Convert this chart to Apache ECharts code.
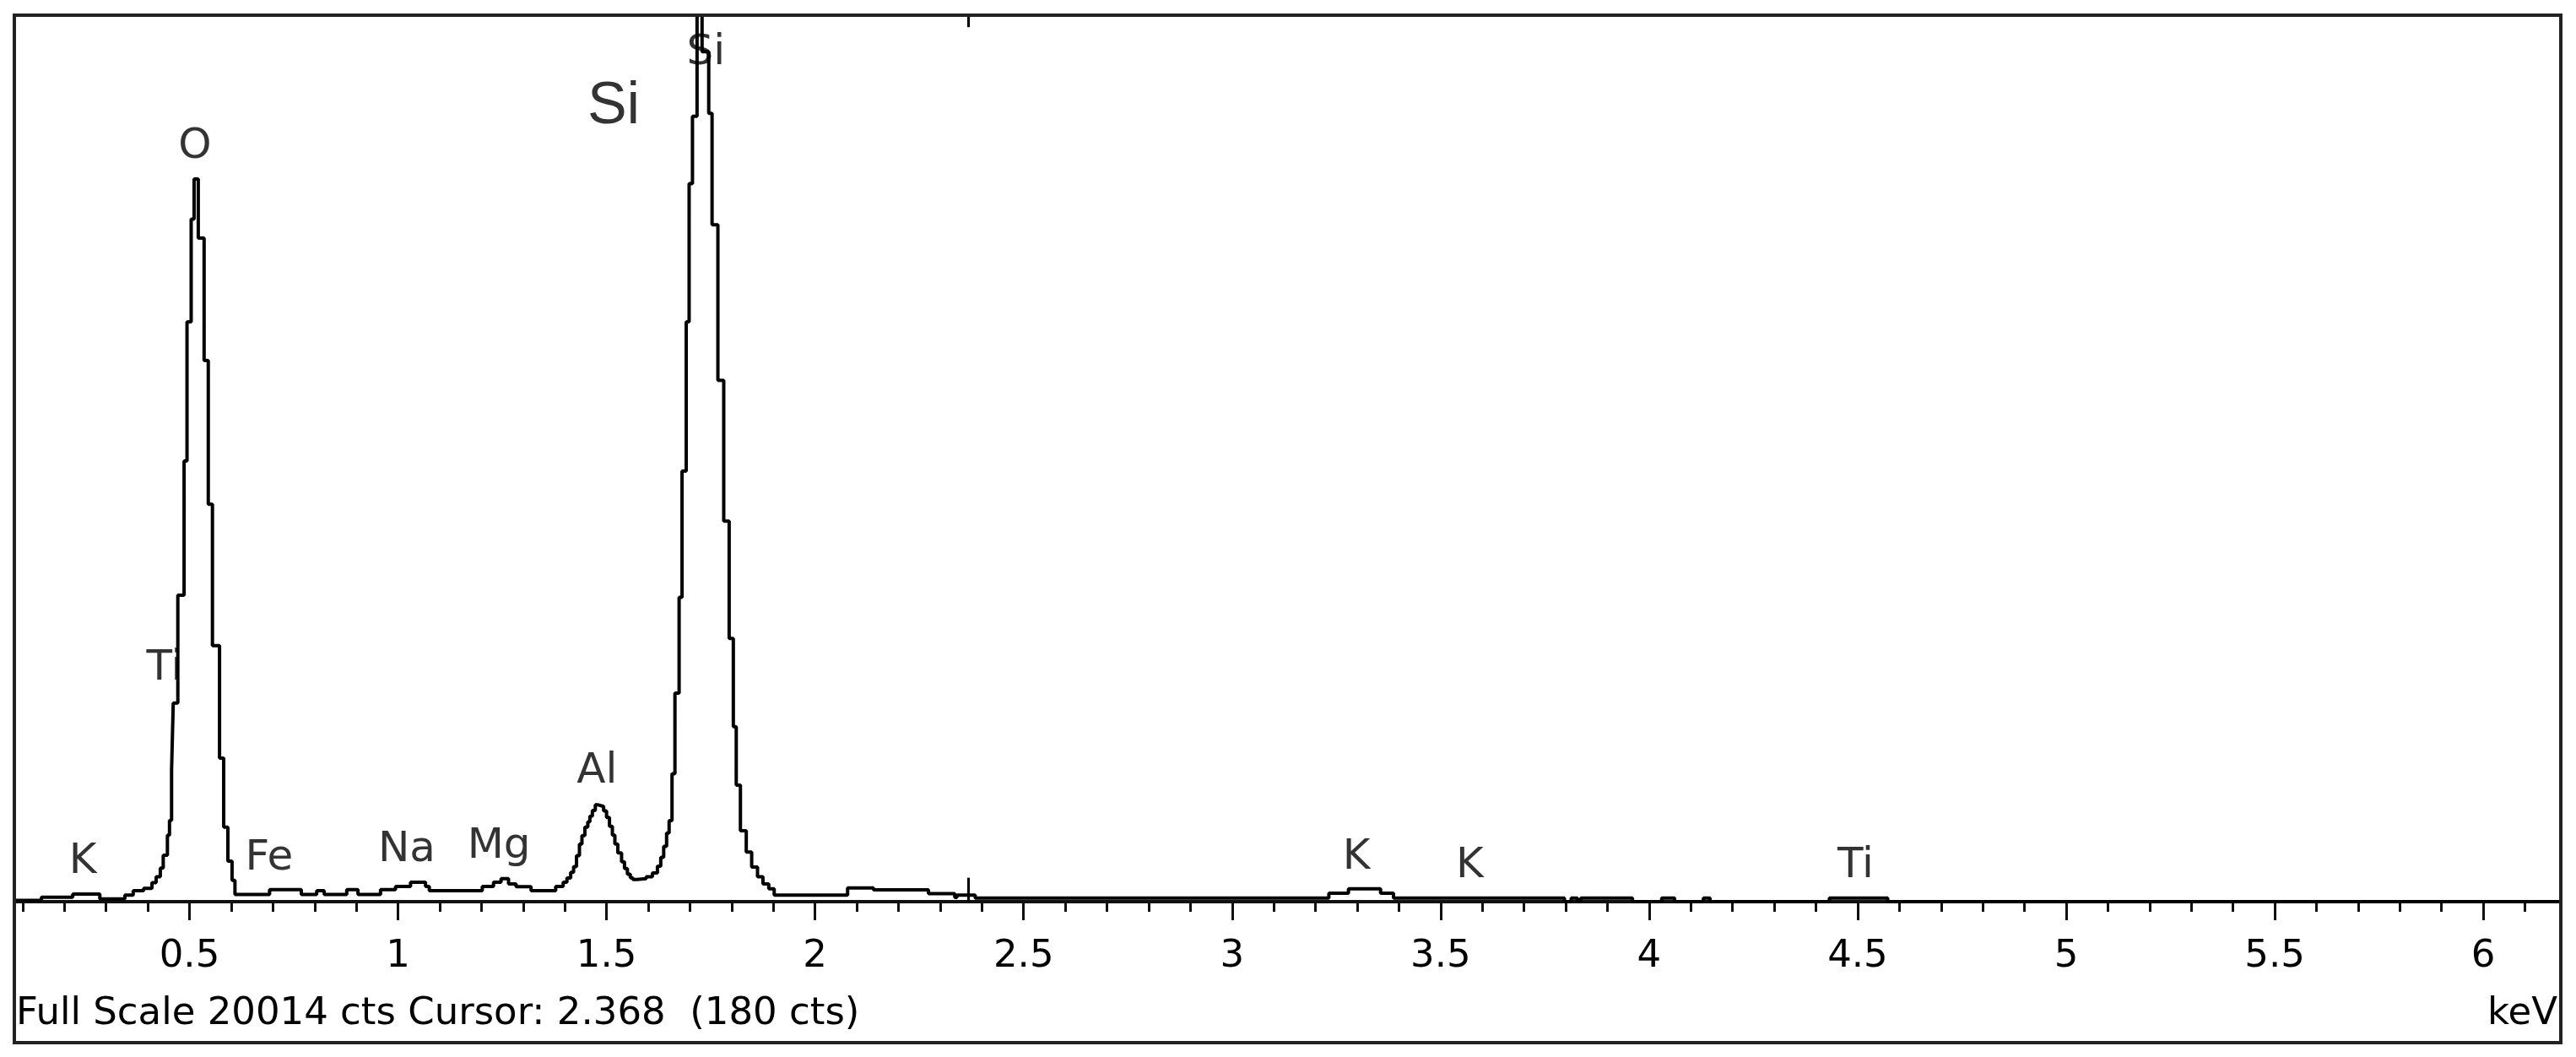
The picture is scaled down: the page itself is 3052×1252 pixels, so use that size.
<!DOCTYPE html>
<html>
<head>
<meta charset="utf-8">
<script src="https://cdn.jsdelivr.net/npm/echarts@6/dist/echarts.min.js"></script>
<style>
html,body{margin:0;padding:0;background:#fff;}
#chart{width:3052px;height:1252px;}
</style>
</head>
<body>
<div id="chart"></div>
<script>
// ---- spectrum data (step start energy in keV, counts level) ----
const energyKeV = [
  0.080, 0.145, 0.220, 0.285, 0.345, 0.365, 0.390, 0.410, 0.420, 0.430,
  0.437, 0.447, 0.452, 0.457, 0.461, 0.472, 0.487, 0.494, 0.504, 0.511,
  0.521, 0.535, 0.545, 0.555, 0.572, 0.582, 0.592, 0.602, 0.609, 0.692,
  0.768, 0.805, 0.823, 0.877, 0.904, 0.958, 0.994, 1.030, 1.066, 1.075,
  1.202, 1.229, 1.247, 1.265, 1.283, 1.319, 1.378, 1.396, 1.405, 1.414,
  1.421, 1.428, 1.435, 1.441, 1.448, 1.455, 1.460, 1.466, 1.473, 1.480,
  1.493, 1.500, 1.507, 1.514, 1.520, 1.527, 1.536, 1.543, 1.550, 1.557,
  1.563, 1.572, 1.595, 1.610, 1.622, 1.630, 1.637, 1.644, 1.650, 1.657,
  1.664, 1.674, 1.681, 1.691, 1.698, 1.706, 1.717, 1.729, 1.745, 1.753,
  1.767, 1.781, 1.794, 1.804, 1.811, 1.821, 1.835, 1.848, 1.862, 1.875,
  1.889, 1.902, 1.913, 2.078, 2.140, 2.272, 2.335, 2.340, 2.384, 3.232,
  3.279, 3.356, 3.387, 3.797, 3.813, 3.828, 3.836, 3.960, 4.030, 4.061,
  4.130, 4.146, 4.432, 4.572, 6.186
];
const counts = [
  30, 100, 170, 60, 150, 250, 300, 430, 560, 760,
  1050, 1500, 1835, 2970, 4485, 6920, 9950, 13090, 15410, 16315,
  14980, 12220, 8975, 5780, 3240, 1680, 915, 480, 160, 270,
  160, 250, 160, 270, 160, 270, 343, 440, 343, 250,
  343, 440, 520, 400, 340, 250, 343, 440, 534, 660,
  790, 1040, 1300, 1490, 1680, 1800, 1930, 2060, 2185, 2150,
  2050, 1900, 1700, 1500, 1300, 1100, 900, 750, 620, 540,
  500, 520, 560, 650, 800, 1000, 1250, 1550, 1830, 2890,
  4710, 6870, 9720, 13090, 16210, 17730, 20014, 19190, 17800, 15280,
  11770, 8590, 5940, 3950, 2630, 1600, 1120, 780, 560, 400,
  290, 150, 150, 310, 267, 180, 95, 150, 80, 190,
  290, 190, 80, 0, 80, 0, 80, 0, 80, 0,
  80, 0, 80, 0, 0
];

// ---- annotation values ----
const fullScale = 20014;
const cursorKeV = 2.368;
const cursorCts = 180;
const xMin = 0.08;
const xMax = 6.186;
const majorTicks = [0.5, 1, 1.5, 2, 2.5, 3, 3.5, 4, 4.5, 5, 5.5, 6];
const minorTicks = [];
for (let k = 1; k <= 61; k++) minorTicks.push(k / 10);

const elementNames    = ['K', 'O', 'Ti', 'Fe', 'Na', 'Mg', 'Al', 'Si', 'K', 'K', 'Ti'];
const elementKeV      = [0.244, 0.513, 0.440, 0.691, 1.021, 1.242, 1.477, 1.738, 3.298, 3.570, 4.495];
const elementLabelCts = [896, 17040, 5260, 981, 1153, 1248, 2935, 19155, 991, 800, 800];
const titleName = 'Si';
const titleKeV = 1.517;
const titleCts = 17935;
const unitName = 'keV';

// ---- build ----
const spectrum = energyKeV.map((e, i) => [e, counts[i]]);
const cursorLowLen = 540;
const cursorTopLen = 270;
const ink = '#111';

const chart = echarts.init(document.getElementById('chart'), null, {renderer: 'canvas'});
chart.setOption({
  animation: false,
  backgroundColor: '#fff',
  grid: {left: 17, right: 18, top: 18, bottom: 184, containLabel: false, outerBoundsMode: 'none'},
  xAxis: [
    {
      type: 'value', min: xMin, max: xMax, position: 'bottom',
      axisLine: {show: true, onZero: false, lineStyle: {color: ink, width: 4}},
      axisTick: {show: true, customValues: minorTicks, length: 12, lineStyle: {color: ink, width: 3}},
      axisLabel: {show: false},
      splitLine: {show: false}
    },
    {
      type: 'value', min: xMin, max: xMax, position: 'bottom',
      axisLine: {show: false, onZero: false},
      axisTick: {show: true, customValues: majorTicks, length: 22, lineStyle: {color: ink, width: 3}},
      axisLabel: {show: true, customValues: majorTicks, margin: 43, fontFamily: 'DejaVu Sans', fontSize: 45, color: '#000'},
      splitLine: {show: false}
    }
  ],
  yAxis: {type: 'value', min: 0, max: fullScale, show: false},
  series: [
    {
      type: 'scatter', silent: true, z: 1, symbolSize: 0,
      data: elementKeV.map((k, i) => ({value: [k, elementLabelCts[i]], label: {formatter: elementNames[i]}})),
      label: {show: true, position: 'inside', fontFamily: 'DejaVu Sans', fontSize: 50, color: '#000'}
    },
    {
      type: 'scatter', silent: true, z: 1, symbolSize: 0,
      data: [{value: [titleKeV, titleCts], label: {formatter: titleName}}],
      label: {show: true, position: 'inside', fontFamily: 'Liberation Sans', fontSize: 70, color: '#000'}
    },
    {
      type: 'line', step: 'end', z: 3, silent: true,
      data: spectrum, showSymbol: false, symbol: 'none',
      lineStyle: {color: '#000', width: 4},
      markLine: {
        silent: true, symbol: ['none', 'none'], label: {show: false},
        lineStyle: {color: '#000', width: 3, type: 'solid'},
        data: [
          [{coord: [cursorKeV, 0]}, {coord: [cursorKeV, cursorLowLen]}],
          [{coord: [cursorKeV, fullScale]}, {coord: [cursorKeV, fullScale - cursorTopLen]}]
        ]
      }
    }
  ],
  graphic: [
    {
      type: 'rect', z: 100, silent: true,
      shape: {x: 17, y: 18, width: 3017, height: 1217},
      style: {fill: 'none', stroke: '#222', lineWidth: 4}
    },
    {
      type: 'text', z: 100, silent: true,
      style: {
        x: 19, y: 1201,
        text: 'Full Scale ' + fullScale + ' cts Cursor: ' + cursorKeV.toFixed(3) + '  (' + cursorCts + ' cts)',
        fontFamily: 'DejaVu Sans', fontSize: 45, fill: '#000',
        align: 'left', verticalAlign: 'middle'
      }
    },
    {
      type: 'text', z: 100, silent: true,
      style: {
        x: 3030, y: 1201, text: unitName,
        fontFamily: 'DejaVu Sans', fontSize: 45, fill: '#000',
        align: 'right', verticalAlign: 'middle'
      }
    }
  ]
});
</script>
</body>
</html>
